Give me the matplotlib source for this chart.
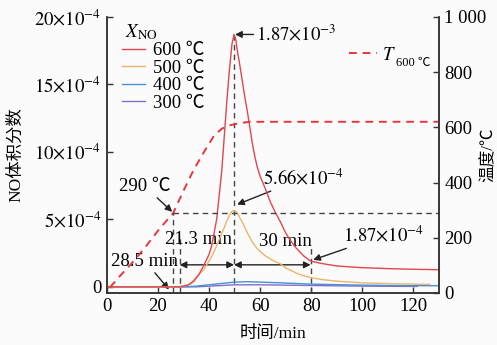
import matplotlib
matplotlib.use("Agg")
import matplotlib.pyplot as plt
from matplotlib.ticker import FixedLocator, FixedFormatter

plt.rcParams['font.family'] = ['Liberation Serif', 'Noto Sans CJK SC']
plt.rcParams['mathtext.fontset'] = 'stix'
plt.rcParams['font.size'] = 13.5
plt.rcParams['axes.unicode_minus'] = False

# NO volume fraction, in units of 1e-4
t_600 = [0, 20, 28, 30, 32, 34, 36, 38, 40, 41, 42, 43, 44, 45, 46, 47, 48, 49, 49.8,
         50.5, 51, 52, 53, 54, 55, 56, 57, 58, 59, 60, 62, 64, 66, 68, 70, 72, 74, 77,
         79.8, 85, 90, 95, 100, 110, 120, 130]
no_600 = [0, 0, 0, 0.05, 0.15, 0.4, 0.9, 1.6, 2.4, 3.0, 4.0, 5.0, 6.8, 8.6, 11.2, 13.8,
          16.1, 18.0, 18.7, 18.3, 17.6, 16.5, 15.3, 14.1, 13.0, 11.8, 10.6, 9.6, 8.8, 8.2,
          7.3, 6.3, 5.5, 4.8, 4.0, 3.4, 2.9, 2.3, 1.9, 1.7, 1.55, 1.48, 1.42, 1.35, 1.3, 1.27]

t_500 = [0, 28, 30, 32, 34.5, 36, 38, 40, 42, 44, 46, 47, 48, 49, 49.8, 51, 53, 55, 57,
         59, 62, 65, 68, 70, 75, 80, 85, 90, 100, 110, 120, 126.5]
no_500 = [0, 0, 0.05, 0.15, 0.6, 0.9, 1.3, 1.9, 2.6, 3.5, 4.4, 4.9, 5.3, 5.6, 5.66, 5.5,
          4.8, 4.0, 3.3, 2.8, 2.3, 1.95, 1.7, 1.4, 0.95, 0.67, 0.52, 0.42, 0.3, 0.24, 0.2, 0.18]

t_400 = [0, 30, 35, 40, 45, 50, 55, 60, 70, 80, 90, 100, 110, 120, 130]
no_400 = [0, 0, 0.05, 0.15, 0.25, 0.35, 0.38, 0.35, 0.28, 0.2, 0.16, 0.13, 0.1, 0.09, 0.08]

t_300 = [0, 35, 40, 50, 60, 80, 100, 121.5]
no_300 = [0, 0, 0.05, 0.15, 0.15, 0.1, 0.05, 0.03]

# temperature for the 600 C run
t_temp = [1.2, 5, 10, 15, 20, 26, 30, 34, 38, 42, 45, 48, 52, 56, 130]
temp_600 = [20, 60, 110, 165, 225, 290, 370, 446, 510, 570, 595, 607, 615, 620, 620]

x_ticks = [0, 20, 40, 60, 80, 100, 120]
left_ticks = [0, 5, 10, 15, 20]
left_labels = ['0', r'$5{\times}10^{-4}$', r'$10{\times}10^{-4}$',
               r'$15{\times}10^{-4}$', r'$20{\times}10^{-4}$']
right_ticks = [0, 200, 400, 600, 800, 1000]
right_labels = ['0', '200', '400', '600', '800', '1 000']

t_rise = 28.5
t_peak = 49.8
t_end = 79.8
t_290 = 26

c600 = '#e0474f'
c500 = '#ebb56a'
c400 = '#4a8fd6'
c300 = '#7d72c8'
ctemp = '#e8363a'
cdash = '#444444'
ink = '#222222'

fig = plt.figure(figsize=(4.97, 3.45), dpi=100, facecolor='#fbfbfb')
ax = fig.add_axes([0.215, 0.151, 0.668, 0.8])
ax.set_facecolor('none')
ax2 = ax.twinx()

l600, = ax.plot(t_600, no_600, color=c600, lw=1.0, zorder=5, label='600 ℃')
l500, = ax.plot(t_500, no_500, color=c500, lw=1.0, zorder=4, label='500 ℃')
l400, = ax.plot(t_400, no_400, color=c400, lw=1.0, zorder=3, label='400 ℃')
l300, = ax.plot(t_300, no_300, color=c300, lw=1.0, zorder=2, label='300 ℃')

ax2.plot(t_temp, temp_600, color=ctemp, lw=1.4, dashes=(4, 3), label=r'$T$')

ax.set_xlim(0, 130)
ax.set_ylim(-0.45, 20)
ax2.set_ylim(0, 1000)

# guide lines
ax2.plot([t_290, 130], [290, 290], color=cdash, lw=1.0, dashes=(4, 3))
ax2.plot([t_290, t_290], [0, 290], color=cdash, lw=1.0, dashes=(4, 3))
ax.plot([t_rise, t_rise], [-0.45, 3.8], color=cdash, lw=1.0, dashes=(4, 3))
ax.plot([t_peak, t_peak], [-0.45, 18.7], color=cdash, lw=1.0, dashes=(4, 3))
ax.plot([t_end, t_end], [-0.45, 3.0], color=cdash, lw=1.0, dashes=(4, 3))

arrow = dict(arrowstyle='-|>', color=ink, lw=1.0, mutation_scale=10, shrinkA=0, shrinkB=0)
both = dict(arrowstyle='<|-|>', color=ink, lw=1.0, mutation_scale=10, shrinkA=0, shrinkB=0)
y_arr = 1.63
ax.annotate('', xy=(t_rise, y_arr), xytext=(t_peak, y_arr), arrowprops=both)
ax.annotate('', xy=(t_peak, y_arr), xytext=(t_end, y_arr), arrowprops=both)
ax.text(35.8, 3.5, '21.3 min', ha='center', va='center')
ax.text(69.8, 3.35, '30 min', ha='center', va='center')
ax.text(14.7, 1.87, '28.5 min', ha='center', va='center')
ax.annotate('', xy=(24.3, -0.2), xytext=(18.8, 1.04), arrowprops=arrow)

ax.annotate(r'$1.87{\times}10^{-3}$', xy=(t_peak + 0.4, 18.7), xytext=(58.5, 18.7),
            va='center', ha='left', arrowprops=arrow)
ax.annotate(r'$5.66{\times}10^{-4}$', xy=(51, 6.1), xytext=(61, 7.3),
            va='bottom', ha='left', arrowprops=arrow)
ax.annotate(r'$1.87{\times}10^{-4}$', xy=(80.8, 2.0), xytext=(92.5, 3.35),
            arrowprops=arrow)
ax.annotate('290 ℃', xy=(25.6, 5.56), xytext=(14.9, 6.8), ha='center', va='bottom',
            arrowprops=arrow)

ax.xaxis.set_major_locator(FixedLocator(x_ticks))
ax.yaxis.set_major_locator(FixedLocator(left_ticks))
ax.yaxis.set_major_formatter(FixedFormatter(left_labels))
ax2.yaxis.set_major_locator(FixedLocator(right_ticks))
ax2.yaxis.set_major_formatter(FixedFormatter(right_labels))

for a in (ax, ax2):
    a.spines['top'].set_visible(False)
    for s in a.spines.values():
        s.set_color('#333333')
        s.set_linewidth(1.1)
    a.tick_params(direction='in', length=4, width=1.0, color='#333333', pad=4)

ax.set_xlabel('时间/min', fontsize=12.5)
ax.xaxis.set_label_coords(0.5, -0.12)
ax.set_ylabel('NO体积分数', fontsize=12.5)
ax.yaxis.set_label_coords(-0.25, 0.5)
ax2.set_ylabel('温度/℃', fontsize=12)
ax2.yaxis.set_label_coords(1.125, 0.5)

leg = ax.legend(handles=[l600, l500, l400, l300], title=r'$\;X_{\mathrm{NO}}$',
                loc='upper left', bbox_to_anchor=(0.017, 1.015), frameon=False,
                handlelength=1.25, handletextpad=0.4, labelspacing=0.02,
                borderpad=0, alignment='left')
leg2 = ax2.legend(loc='center right', bbox_to_anchor=(0.898, 0.862), frameon=False,
                  handlelength=1.5, handletextpad=0.27, borderpad=0)

fig.canvas.draw()
ax2.annotate('600 ℃', xy=(1.0, 0.0), xycoords=leg2.get_texts()[0],
             xytext=(0.5, -4), textcoords='offset points', fontsize=9,
             ha='left', va='bottom')

fig.savefig('out.png', dpi=100, facecolor=fig.get_facecolor())
